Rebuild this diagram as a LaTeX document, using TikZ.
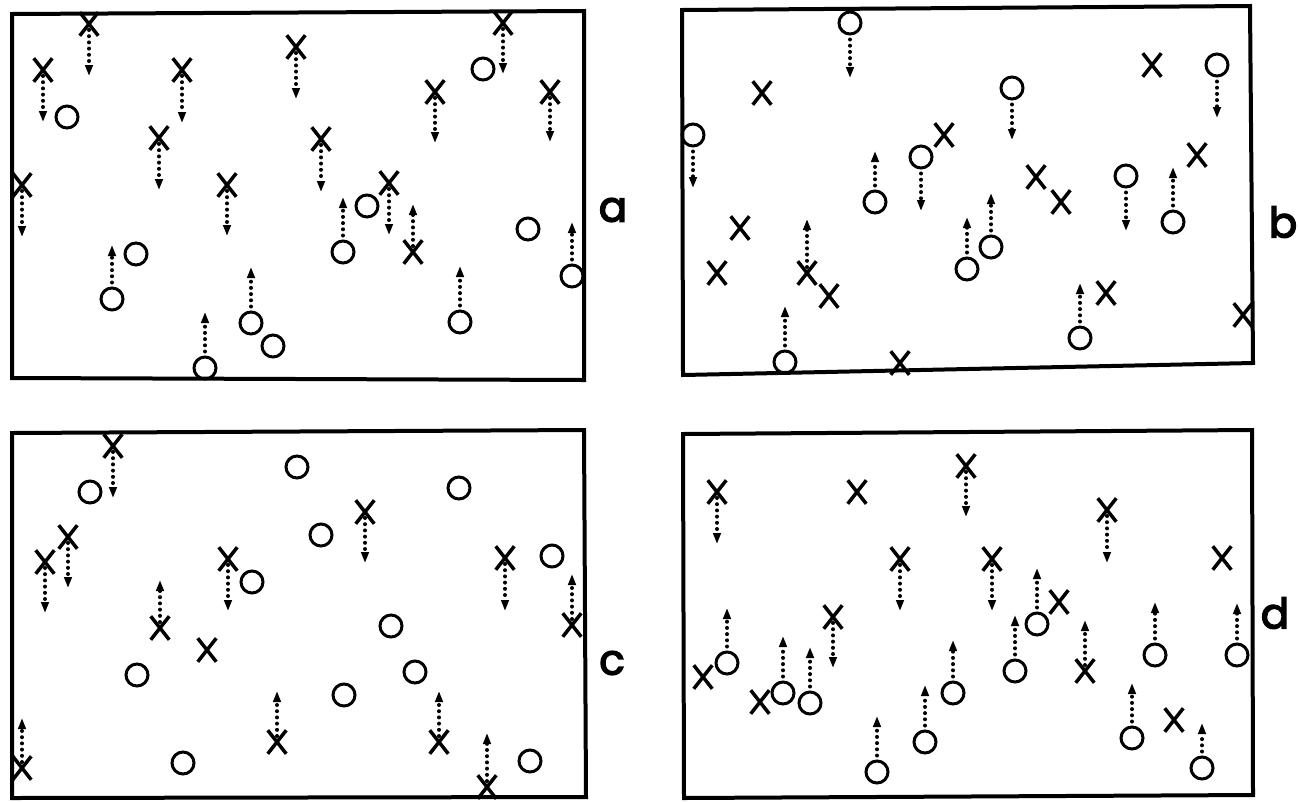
\documentclass[tikz,border=0pt]{standalone}
\usepackage{fontspec}
\newfontfamily\labfont[FakeBold=3.5]{Poppins}
\usetikzlibrary{shapes.misc,arrows.meta}
\tikzset{
  xm/.style={cross out,draw,minimum width=15pt,minimum height=20pt,inner sep=0pt,line width=3.5pt},
  om/.style={circle,draw,minimum size=22pt,inner sep=0pt,line width=3pt},
  darr/.style={line width=4pt,line cap=round,dash pattern=on 0pt off 6.2pt,
    -{Triangle[length=11pt,width=7.5pt]}},
  box/.style={line width=4pt,line join=miter},
  lab/.style={font=\labfont\fontsize{42}{42}\selectfont,inner sep=0pt}
}
% X with down arrow / up arrow, circle with down / up arrow, plain X, plain circle
\newcommand\mXd[4]{\node[xm] (#1) at (#2,#3) {}; \coordinate (#1t) at (#2,#4);
  \draw[darr,shorten <=6pt] (#1.center) -- (#1t);}
\newcommand\mXu[4]{\node[xm] (#1) at (#2,#3) {}; \coordinate (#1t) at (#2,#4);
  \draw[darr,shorten <=6pt] (#1.center) -- (#1t);}
\newcommand\mOd[4]{\node[om] (#1) at (#2,#3) {}; \coordinate (#1t) at (#2,#4);
  \draw[darr,shorten <=4pt] (#1) -- (#1t);}
\newcommand\mOu[4]{\node[om] (#1) at (#2,#3) {}; \coordinate (#1t) at (#2,#4);
  \draw[darr,shorten <=4pt] (#1) -- (#1t);}
\newcommand\mX[3]{\node[xm] (#1) at (#2,#3) {};}
\newcommand\mO[3]{\node[om] (#1) at (#2,#3) {};}
\begin{document}
\begin{tikzpicture}[x=1pt,y=-1pt]
\useasboundingbox (0,0) rectangle (1300,801);
\fill[white] (0,0) rectangle (1300,801);
% frames
\draw[box] (12,14) -- (584,11) -- (584,380) -- (12,378) -- cycle;
\draw[box] (682,10) -- (1250,6) -- (1253,363) -- (683,375) -- cycle;
\draw[box] (12,433) -- (584,430) -- (586,797) -- (12,798) -- cycle;
\draw[box] (683,434) -- (1252,430) -- (1253,795) -- (684,798) -- cycle;
% labels
\node[lab] (la) at (613,210) {a};
\node[lab] (lb) at (1283,222) {b};
\node[lab] (lc) at (612,663) {c};
\node[lab] (ld) at (1275,613) {d};
% ---- panel a ----
\mXd{a1}{89}{24}{76}
\mXd{a2}{43}{70}{122}
\mXd{a3}{182}{70}{123}
\mXd{a4}{296}{47}{99}
\mXd{a5}{159}{138}{190}
\mXd{a6}{321}{139}{192}
\mXd{a7}{22}{185}{237}
\mXd{a8}{227}{185}{236}
\mXd{a9}{503}{23}{74}
\mXd{a10}{435}{92}{143}
\mXd{a11}{550}{92}{142}
\mXd{a12}{389}{183}{235}
\mXu{a13}{413}{252}{204}
\mO{a14}{67}{117}
\mO{a15}{136}{254}
\mOu{a16}{112}{299}{245}
\mOu{a17}{251}{323}{267}
\mO{a18}{273}{346}
\mOu{a19}{205}{368}{312}
\mO{a20}{483}{69}
\mO{a21}{367}{206}
\mOu{a22}{343}{252}{197}
\mO{a23}{528}{229}
\mOu{a24}{572}{276}{222}
\mOu{a25}{460}{322}{266}
% ---- panel b ----
\mOd{b1}{850}{23}{78}
\mX{b2}{762}{93}
\mOd{b3}{693}{135}{188}
\mX{b4}{944}{135}
\mOd{b5}{921}{157}{211}
\mOu{b6}{875}{202}{151}
\mX{b7}{740}{228}
\mX{b8}{717}{273}
\mXu{b9}{807}{273}{219}
\mX{b10}{829}{296}
\mOu{b11}{967}{269}{217}
\mOu{b12}{785}{362}{306}
\mX{b13}{900}{363}
\mX{b14}{1152}{65}
\mOd{b15}{1217}{65}{118}
\mOd{b16}{1012}{88}{140}
\mX{b17}{1197}{155}
\mX{b18}{1036}{177}
\mX{b19}{1061}{202}
\mOd{b20}{1126}{176}{231}
\mOu{b21}{1173}{222}{167}
\mOu{b22}{991}{247}{193}
\mX{b23}{1106}{293}
\mOu{b24}{1080}{338}{283}
\mX{b25}{1243}{315}
% ---- panel c ----
\mXd{c1}{113}{446}{498}
\mO{c2}{90}{492}
\mO{c3}{297}{467}
\mXd{c4}{68}{537}{588}
\mXd{c5}{45}{562}{613}
\mXd{c6}{228}{559}{611}
\mO{c7}{252}{582}
\mXu{c8}{160}{628}{580}
\mX{c9}{207}{650}
\mO{c10}{137}{675}
\mXu{c11}{277}{742}{691}
\mXu{c12}{22}{768}{718}
\mO{c13}{183}{763}
\mO{c14}{459}{488}
\mXd{c15}{365}{512}{563}
\mO{c16}{321}{535}
\mXd{c17}{505}{558}{611}
\mO{c18}{552}{556}
\mXu{c19}{572}{625}{574}
\mO{c20}{391}{626}
\mO{c21}{415}{672}
\mO{c22}{344}{695}
\mXu{c23}{439}{742}{691}
\mXu{c24}{487}{787}{733}
\mO{c25}{530}{761}
% ---- panel d ----
\mXd{d1}{717}{492}{544}
\mX{d2}{857}{492}
\mXd{d3}{966}{466}{517}
\mXd{d4}{900}{559}{611}
\mXd{d5}{833}{617}{668}
\mX{d6}{703}{677}
\mOu{d7}{727}{663}{608}
\mX{d8}{760}{702}
\mOu{d9}{783}{693}{636}
\mOu{d10}{810}{703}{647}
\mOu{d11}{877}{772}{716}
\mOu{d12}{925}{742}{685}
\mOu{d13}{953}{693}{640}
\mXd{d14}{1107}{510}{563}
\mXd{d15}{992}{559}{611}
\mX{d16}{1222}{558}
\mOu{d17}{1037}{624}{568}
\mX{d18}{1059}{602}
\mOu{d19}{1015}{671}{615}
\mXu{d20}{1085}{671}{620}
\mOu{d21}{1155}{655}{602}
\mOu{d22}{1237}{655}{603}
\mOu{d23}{1132}{738}{683}
\mX{d24}{1174}{720}
\mOu{d25}{1202}{768}{723}
\end{tikzpicture}
\end{document}
